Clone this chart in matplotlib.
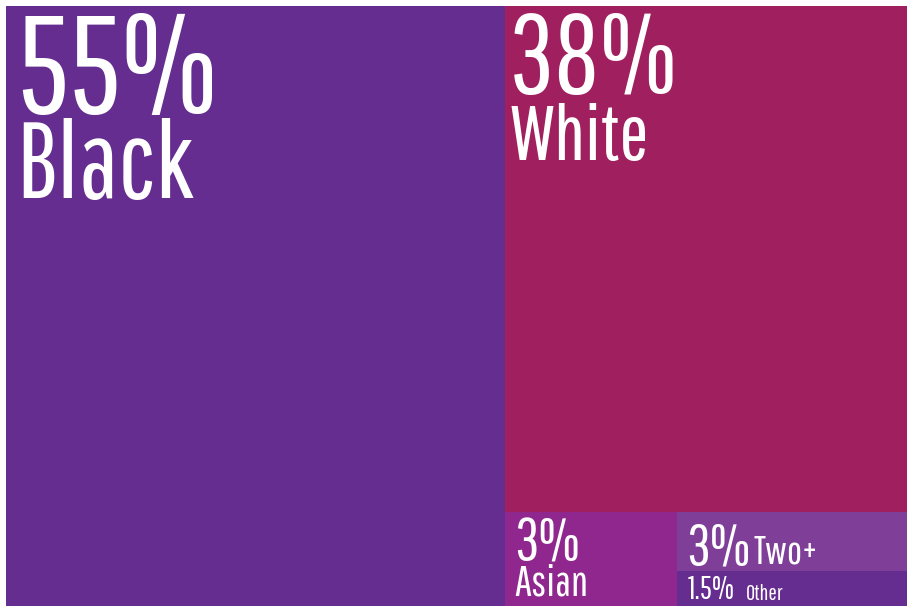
import matplotlib
matplotlib.use("Agg")
import matplotlib.pyplot as plt
from matplotlib.patches import Rectangle

# share of population by race
labels = ["Black", "White", "Asian", "Two+", "Other"]
pct_labels = ["55%", "38%", "3%", "3%", "1.5%"]
values = [55.4, 37.6, 3.0, 2.5, 1.5]
colors = ["#652D90", "#A01F5E", "#90278E", "#7F3F98", "#652D90"]

W, H = 907, 608
x0, y0, x1, y1 = 6, 6, 907, 606

fig = plt.figure(figsize=(W / 100, H / 100), dpi=100)
ax = fig.add_axes([0, 0, 1, 1])
ax.set_xlim(0, W)
ax.set_ylim(H, 0)
ax.axis("off")

# slice layout: black column, then white on top, small ones below
total = sum(values)
bw = (x1 - x0) * values[0] / total
rest = sum(values[1:])
wh = (y1 - y0) * values[1] / rest
small = sum(values[2:])
aw = (x1 - x0 - bw) * values[2] / small
th = (y1 - y0 - wh) * values[3] / (values[3] + values[4])

rects = [
    (x0, y0, bw, y1 - y0),
    (x0 + bw, y0, x1 - x0 - bw, wh),
    (x0 + bw, y0 + wh, aw, y1 - y0 - wh),
    (x0 + bw + aw, y0 + wh, x1 - x0 - bw - aw, th),
    (x0 + bw + aw, y0 + wh + th, x1 - x0 - bw - aw, y1 - y0 - wh - th),
]
for (rx, ry, rw, rh), c in zip(rects, colors):
    ax.add_patch(Rectangle((rx, ry), rw, rh, facecolor=c, edgecolor="none"))

fam = ["Pathway Gothic One", "DejaVu Sans"]
txt = dict(color="white", family=fam, va="baseline", ha="left")

# black
ax.text(rects[0][0] + 10, 113, pct_labels[0], fontsize=100, **txt)
ax.text(rects[0][0] + 10, 198, labels[0], fontsize=77, **txt)
# white
ax.text(rects[1][0] + 4, 93, pct_labels[1], fontsize=80, **txt)
ax.text(rects[1][0] + 4, 160, labels[1], fontsize=56, **txt)
# asian
ax.text(rects[2][0] + 9, 561, pct_labels[2], fontsize=43, **txt)
ax.text(rects[2][0] + 9, 596, labels[2], fontsize=31, **txt)
# two+
ax.text(rects[3][0] + 9, 564, pct_labels[3], fontsize=42, **txt)
ax.text(rects[3][0] + 76, 564, labels[3], fontsize=29, **txt)
# other
ax.text(rects[4][0] + 10, 599, pct_labels[4], fontsize=23, **txt)
ax.text(rects[4][0] + 69, 600, labels[4], fontsize=16, **txt)

fig.savefig("out.png", dpi=100, facecolor="white")
